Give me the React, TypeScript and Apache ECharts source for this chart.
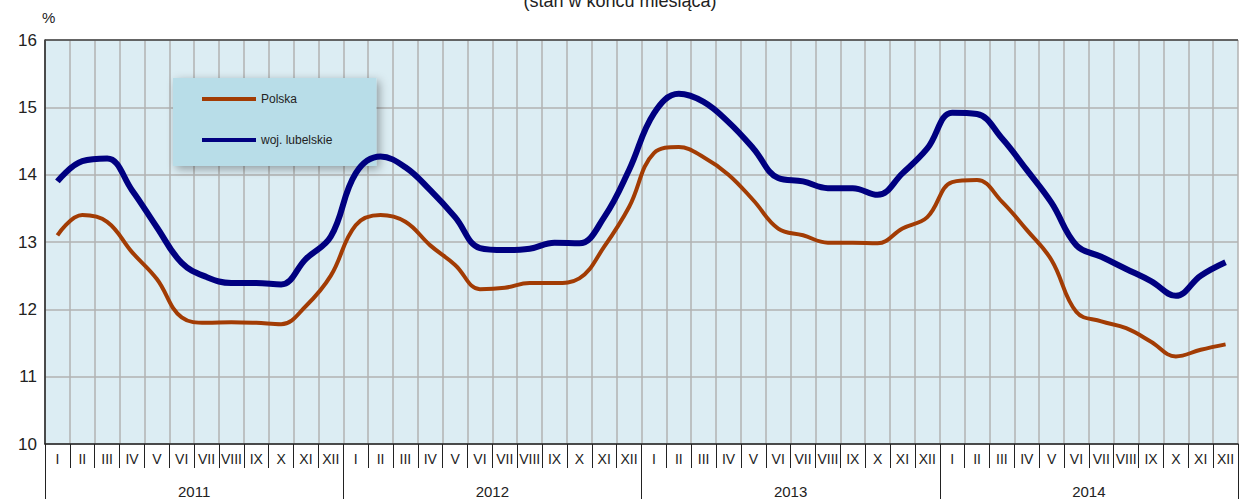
import React, { useEffect, useRef } from "react";
import * as echarts from "echarts";

const months = ["I", "II", "III", "IV", "V", "VI", "VII", "VIII", "IX", "X", "XI", "XII"];
const years = ["2011", "2012", "2013", "2014"];
const categories: string[] = years.flatMap((y) => months.map((m) => `${m}|${y}`));

const polska = [
  13.1, 13.4, 13.3, 12.85, 12.45, 11.88, 11.8, 11.81, 11.8, 11.78, 12.05, 12.5,
  13.25, 13.4, 13.3, 12.95, 12.66, 12.3, 12.32, 12.39, 12.39, 12.46, 12.93, 13.52,
  14.32, 14.41, 14.26, 14.0, 13.62, 13.2, 13.1, 12.99, 12.99, 12.98, 13.2, 13.37,
  13.89, 13.92, 13.6, 13.18, 12.73, 11.96, 11.82, 11.72, 11.52, 11.3, 11.4, 11.48,
];
const lubelskie = [
  13.9, 14.2, 14.24, 13.77, 13.22, 12.69, 12.48, 12.39, 12.39, 12.37, 12.75, 13.08,
  14.02, 14.27, 14.11, 13.77, 13.37, 12.91, 12.88, 12.9, 12.99, 12.98, 13.37, 14.07,
  14.91, 15.2, 15.08, 14.78, 14.39, 13.95, 13.9, 13.8, 13.8, 13.7, 14.02, 14.39,
  14.92, 14.9, 14.54, 14.07, 13.58, 12.95, 12.78, 12.6, 12.42, 12.2, 12.5, 12.7,
];
const seriesNames = ["Polska", "woj. lubelskie"];
const titleText = "(stan w końcu miesiąca)";
const unitText = "%";

export default function App() {
  const ref = useRef<HTMLDivElement>(null);
  useEffect(() => {
    if (!ref.current) return;
    const chart = echarts.init(ref.current, undefined, { renderer: "svg" });
    const font = "Arial, 'Liberation Sans', sans-serif";
    chart.setOption({
      animation: false,
      textStyle: { fontFamily: font },
      grid: {
        left: 45,
        right: 2,
        top: 40,
        bottom: 55,
        show: true,
        backgroundColor: "#dcedf3",
        borderWidth: 0,
      },
      graphic: [
        {
          type: "text",
          left: "center",
          top: -8,
          style: { text: titleText, fontSize: 18, fill: "#222", fontFamily: font },
        },
        {
          type: "text",
          left: 42,
          top: 10,
          style: { text: unitText, fontSize: 15, fill: "#222", fontFamily: font },
        },
        {
          type: "line",
          shape: { x1: 45, y1: 40, x2: 1238, y2: 40 },
          style: { stroke: "#444", lineWidth: 1.5 },
          z: 10,
        },
      ],
      legend: {
        data: seriesNames.map((n) => ({ name: n, icon: "rect" })),
        orient: "vertical",
        left: 173,
        top: 78,
        itemWidth: 54,
        itemHeight: 4,
        itemGap: 29,
        padding: [15, 44, 20, 29],
        backgroundColor: "#b8dde8",
        shadowBlur: 10,
        shadowColor: "rgba(0,0,0,0.35)",
        shadowOffsetX: 3,
        shadowOffsetY: 3,
        textStyle: { fontSize: 12, color: "#222", fontFamily: font },
      },
      xAxis: [
        {
          type: "category",
          data: categories,
          boundaryGap: true,
          position: "bottom",
          axisLine: { lineStyle: { color: "#222", width: 1.5 } },
          axisTick: { show: true, interval: 0, length: 24, lineStyle: { color: "#222", width: 1 } },
          axisLabel: {
            interval: 0,
            margin: 8,
            fontSize: 14,
            color: "#222",
            formatter: (v: string) => v.split("|")[0],
          },
          splitLine: { show: true, interval: 0, lineStyle: { color: "#b2b2b2", width: 1.5 } },
        },
        {
          type: "category",
          data: years,
          boundaryGap: true,
          position: "bottom",
          axisLine: { show: false },
          axisTick: { show: true, interval: 0, length: 56, lineStyle: { color: "#222", width: 1 } },
          axisLabel: { interval: 0, margin: 40, fontSize: 15, color: "#222" },
          splitLine: { show: false },
        },
      ],
      yAxis: {
        type: "value",
        min: 10,
        max: 16,
        interval: 1,
        axisLine: { show: true, lineStyle: { color: "#222", width: 1.5 } },
        axisTick: { show: false },
        axisLabel: { fontSize: 17, color: "#222", margin: 8 },
        splitLine: { show: true, lineStyle: { color: "#b2b2b2", width: 1.5 } },
      },
      series: [
        {
          name: seriesNames[0],
          type: "line",
          data: polska,
          smooth: 0.4,
          showSymbol: false,
          lineStyle: { color: "#a23c04", width: 4 },
          itemStyle: { color: "#a23c04" },
          z: 3,
        },
        {
          name: seriesNames[1],
          type: "line",
          data: lubelskie,
          smooth: 0.4,
          showSymbol: false,
          lineStyle: { color: "#000080", width: 6 },
          itemStyle: { color: "#000080" },
          z: 4,
        },
      ],
    });
    return () => chart.dispose();
  }, []);
  return (
    <div
      ref={ref}
      style={{ position: "fixed", left: 0, top: 0, width: 1240, height: 499, background: "#fff" }}
    />
  );
}
